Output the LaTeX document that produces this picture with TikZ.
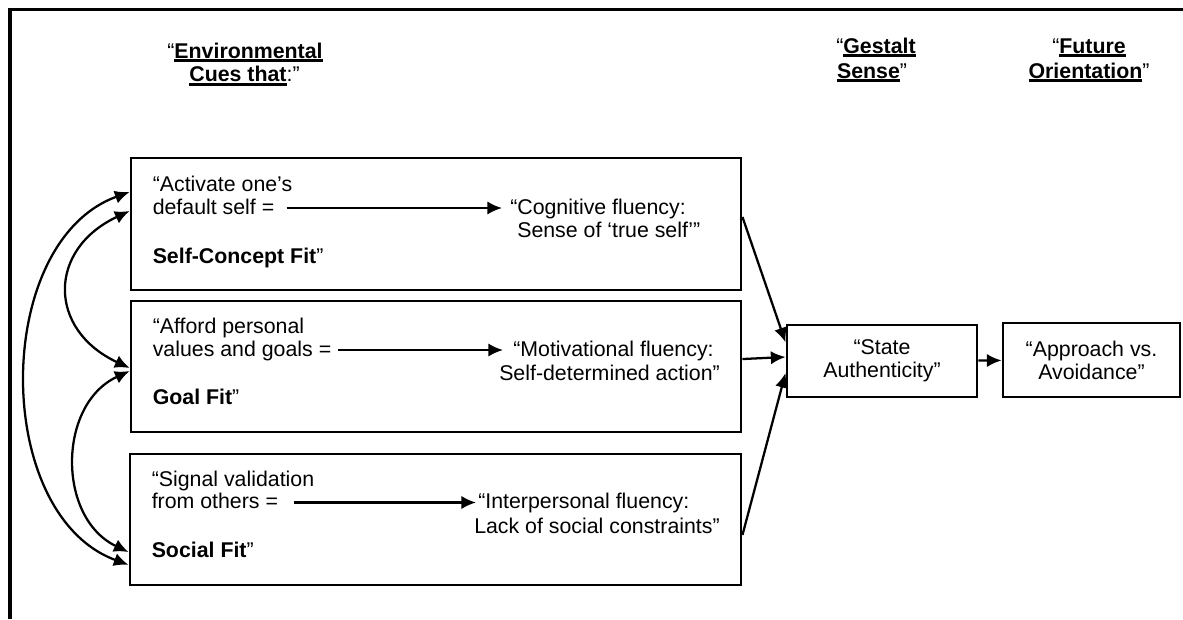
\documentclass[tikz,border=0pt]{standalone}
\usepackage{fontspec}
\setmainfont{Liberation Sans}
\usetikzlibrary{arrows.meta}
\newsavebox\ulbox
\newcommand{\ulbf}[1]{\sbox\ulbox{\textbf{#1}}\rlap{\rule[-3pt]{\wd\ulbox}{2.2pt}}\usebox\ulbox}
\tikzstyle{frame}=[line width=2.4pt]
\tikzstyle{cuebox}=[draw, line width=2.2pt, inner sep=0pt]
\tikzstyle{endbox}=[cuebox, align=center, font=\fontsize{16}{17.25}\selectfont]
\tikzstyle{cue}=[anchor=base west, inner sep=0pt, text height=12pt, text depth=3pt,
               font=\fontsize{16}{19}\selectfont]
\tikzstyle{head}=[anchor=base, inner sep=0pt, font=\fontsize{16}{19}\selectfont]
\tikzstyle{flow}=[line width=1.7pt, -{Latex[length=11pt,width=10pt]}]
\tikzstyle{link}=[line width=1.7pt, {Latex[length=11pt,width=10pt]}-{Latex[length=11pt,width=10pt]}]
\begin{document}
\begin{tikzpicture}[x=0.75pt, y=0.75pt]
\useasboundingbox (0,0) rectangle (1183,-619);
\draw[frame] (1183,-9.5) -- (10,-9.5) -- (10,-619);

% column headings
\node[head] (env1) at (245,-58.3) {“\ulbf{Environmental}};
\node[head] (env2) at (244.5,-81.7) {\ulbf{Cues that}:”};
\node[head] (ges1) at (876,-53) {“\ulbf{Gestalt}};
\node[head] (ges2) at (872,-78) {\ulbf{Sense}”};
\node[head] (fut1) at (1089,-53) {“\ulbf{Future}};
\node[head] (fut2) at (1089,-78) {\ulbf{Orientation}”};

% the three cue boxes
\node[cuebox, minimum width=457.5pt, minimum height=99pt] (cue1) at (436,-224) {};
\node[cuebox, minimum width=457.5pt, minimum height=98.25pt] (cue2) at (436,-366.5) {};
\node[cuebox, minimum width=458.25pt, minimum height=98.25pt] (cue3) at (435.5,-519.5) {};

\node[cue] (act1) at (152.5,-191) {“Activate one’s};
\node[cue] (act2) at (152.5,-214) {default self =};
\node[cue] (fit1) at (152.5,-263) {\textbf{Self-Concept Fit}”};
\node[cue] (flu1a) at (510,-214) {“Cognitive fluency:};
\node[cue] (flu1b) at (517,-237.5) {Sense of ‘true self’”};

\node[cue] (aff1) at (152.5,-333) {“Afford personal};
\node[cue] (aff2) at (152.5,-356) {values and goals =};
\node[cue] (fit2) at (152.5,-404) {\textbf{Goal Fit}”};
\node[cue] (flu2a) at (513,-356) {“Motivational fluency:};
\node[cue] (flu2b) at (499,-380) {Self-determined action”};

\node[cue] (sig1) at (151.5,-486) {“Signal validation};
\node[cue] (sig2) at (151.5,-508.5) {from others =};
\node[cue] (fit3) at (151.5,-557) {\textbf{Social Fit}”};
\node[cue] (flu3a) at (478,-508.5) {“Interpersonal fluency:};
\node[cue] (flu3b) at (474,-533) {Lack of social constraints”};

\draw[flow, shorten <=9pt, shorten >=6pt] (act2.east) -- (flu1a.west);
\draw[flow, shorten <=5pt, shorten >=7.5pt] (aff2.east) -- (flu2a.west);
\draw[flow, shorten <=12pt, shorten >=1.5pt] (sig2.east) -- (flu3a.west);

% fit links on the left
\draw[link, bend right=70] ([yshift=24pt]cue1.west) to ([yshift=-34pt]cue3.west);
\draw[link, bend right=65, looseness=1.48] ([yshift=9.75pt]cue1.west) to ([yshift=-1.1pt]cue2.west);
\draw[link, bend right=65, looseness=1.12] ([yshift=-3.4pt]cue2.west) to ([yshift=-24.4pt]cue3.west);

% outcome boxes
\node[endbox, minimum width=142.5pt, minimum height=54pt] (state) at (882,-361) {“State\\Authenticity”};
\node[endbox, minimum width=132.75pt, minimum height=55.5pt] (approach) at (1091.5,-360) {“Approach vs.\\Avoidance”};

\draw[flow] ([yshift=5.25pt]cue1.east) -- ([yshift=14pt]state.west);
\draw[flow] ([yshift=5.6pt]cue2.east) -- ([yshift=3pt]state.west);
\draw[flow] ([yshift=-11.6pt]cue3.east) -- ([yshift=-9pt]state.west);
\draw[flow] (state) -- (approach);
\end{tikzpicture}
\end{document}
